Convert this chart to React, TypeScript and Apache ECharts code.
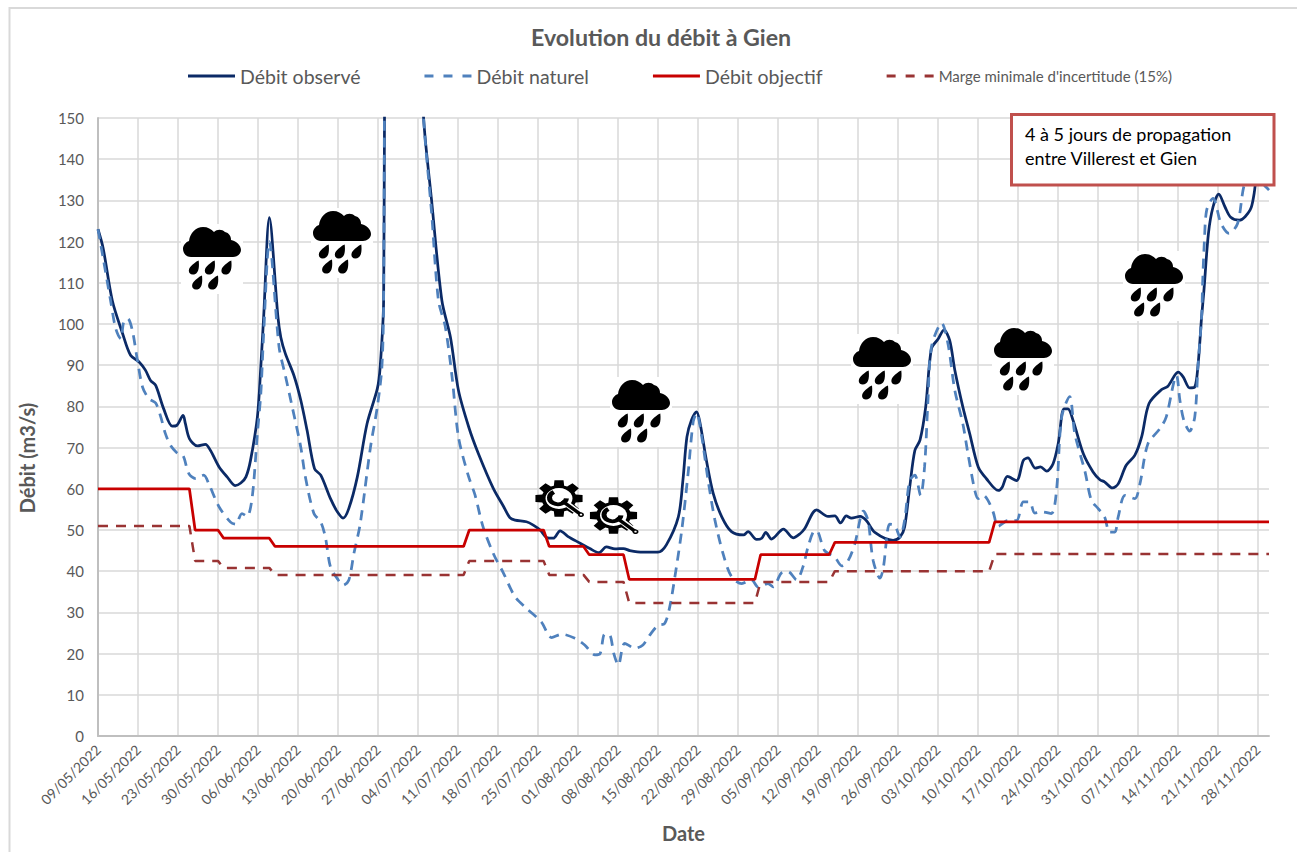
import React, { useEffect, useRef } from "react";
import * as echarts from "echarts";

const FONT = "Lato";
const tickLabels = ["09/05/2022","16/05/2022","23/05/2022","30/05/2022","06/06/2022","13/06/2022","20/06/2022","27/06/2022","04/07/2022","11/07/2022","18/07/2022","25/07/2022","01/08/2022","08/08/2022","15/08/2022","22/08/2022","29/08/2022","05/09/2022","12/09/2022","19/09/2022","26/09/2022","03/10/2022","10/10/2022","17/10/2022","24/10/2022","31/10/2022","07/11/2022","14/11/2022","21/11/2022","28/11/2022"];

// [day since 09/05/2022, m3/s]
const observed = [[0,123],[0.9,118.4],[2.5,105.7],[4.3,97.7],[5.7,92.4],[7.2,90.8],[8.3,88.8],[9.2,86.3],[10.1,85.1],[11.5,79.4],[13,75.2],[13.8,75.4],[14.9,77.8],[15.3,75.8],[16,72.2],[17.4,70.4],[18.8,70.8],[19.7,69.3],[21.2,65.3],[22.6,62.9],[24,60.8],[25,61.4],[25.9,62.9],[26.7,66.9],[27.9,77.4],[28.5,89.6],[29,101.7],[30,125.8],[31.5,101.7],[32,96.8],[32.8,92.8],[34.3,87.5],[35.5,81.5],[36.6,74.2],[37.9,64.9],[39,63.3],[40.7,57.6],[41.9,54.4],[42.9,52.9],[43.9,55.2],[45.4,62.9],[47.1,75.8],[48.9,84.3],[49.4,89.6],[50,105.7],[51,400],[53,300],[55,210],[57,150],[58.4,130],[60.2,105.7],[61.7,96.8],[63.1,83.9],[64.9,75],[66.6,68.5],[69.2,60.1],[71,55.7],[72.1,53],[73,52.4],[75,52],[76.2,51.2],[77.4,50],[78.5,48.2],[79.7,48],[80.9,49.8],[82.3,48.4],[84.4,46.8],[86.1,45.5],[87.7,44.5],[89,45.9],[90.5,45.4],[92,45.5],[93.1,45],[95.4,44.6],[98,44.6],[99.5,46.4],[101.6,53.2],[102.4,62.1],[103.1,72.6],[103.9,76.7],[104.8,78.7],[105.4,75.9],[106.5,67],[107.7,58.9],[109.2,53.2],[110.9,49.6],[113,48.8],[113.8,49.6],[115.3,47.7],[116.2,48],[116.9,49.4],[117.9,47.8],[120,50.2],[121.7,48.1],[122.9,49.1],[123.7,50.3],[125.8,54.9],[127.8,53.3],[129,53.4],[130,51.7],[131,53.4],[131.9,52.9],[133.4,53.3],[134.5,52.3],[136,49.4],[139.2,47.5],[140.4,48.3],[141.2,50.7],[142.1,60.4],[143,69.3],[143.9,71.8],[144.9,79.9],[145.9,94],[147.1,96.4],[148.1,98.6],[149.1,96],[150,88.8],[151.4,79.9],[152.6,73.4],[154.1,65.3],[155.5,62.5],[157.6,59.6],[158.3,60.4],[159.2,63],[160.8,62],[162,66.9],[162.8,67.5],[164.1,65],[165,65.3],[166.1,64.3],[167.2,66.1],[168.1,71],[169.1,79.4],[169.8,79.4],[170.7,76.6],[172.5,68.5],[174.2,64.1],[175.4,62.2],[176.2,61.7],[177.6,60.2],[178.6,61.2],[180,65.7],[181.5,68.1],[182.7,72.6],[184,80.7],[186.2,84.1],[187.3,84.9],[189.1,88.3],[190,87.1],[191.1,84.5],[192,84.7],[192.6,90.4],[193.2,101.7],[193.6,108],[194.4,122],[195.2,128.4],[196.2,131.5],[197.3,128.4],[198.3,125.9],[199.8,125.2],[201.7,127.7],[202.4,131.7],[202.9,136.6],[204,140],[205,142]];

const natural = [[0,123],[0.9,116],[2.2,105.7],[3.1,98.9],[4,96.4],[4.5,100.5],[5.2,101.3],[6,98.5],[6.9,91.2],[7.8,84.7],[8.9,81.9],[10.1,80.8],[11,77.4],[11.8,73.4],[12.7,70.5],[14,68.5],[14.9,68],[15.9,63.7],[17.1,62.5],[18.5,63.3],[19.4,61.2],[21.2,55.6],[23.2,51.9],[24.1,51.4],[25.2,54],[26.1,53.3],[27,58],[27.9,73.4],[28.5,83],[29,97.6],[30,120],[31.7,94.4],[32.8,87.5],[34,79.9],[35.5,70.1],[36.3,62.9],[37.8,54],[39,51.9],[39.8,48.3],[40.7,41],[41.9,38.2],[42.9,36.6],[43.9,37.8],[44.8,44.3],[45.9,51.5],[47.7,70.1],[48.9,79.9],[49.7,89.6],[50,105.7],[51,400],[53,300],[55,210],[57,150],[58.4,127],[59.6,105.7],[60.8,99.3],[62,87],[63.1,72.6],[64.8,63.3],[66,58.5],[67.4,50.8],[69.2,44.3],[71,39.5],[73,33.8],[75,31],[77.6,27.7],[79.4,23.9],[81.2,24.7],[83.5,23.7],[85.2,22.1],[87,19.7],[87.9,20],[88.7,24.7],[89.6,24.5],[90.3,20],[91.1,17.2],[92.2,22.5],[94,21.3],[95.4,22.1],[96.6,24.5],[98,26.8],[99.2,27.3],[100.1,31.4],[101,38.7],[102.2,50],[103.3,63.7],[104.2,76.3],[104.8,78.3],[105.7,72.6],[106.8,62.1],[108,52.4],[109.5,43.9],[110.9,38.7],[112.7,37],[114.4,37.9],[115.6,36.1],[117.3,37],[118.2,36.2],[119.6,39.5],[120.8,39.9],[122.3,37.9],[123.4,41],[124.3,45.9],[125.2,49.5],[125.8,49.8],[127.2,45],[129,43.4],[130.2,41.3],[131.3,42.5],[132.5,46.7],[134,54.6],[134.8,52.3],[135.7,42.6],[136.9,38.3],[137.5,41],[138.6,51.4],[139.5,51.1],[140.4,48.3],[141.2,52.3],[142.1,62],[143,63.3],[144,58.4],[144.7,65.3],[145.3,81.5],[145.9,94.4],[147.7,100.2],[148.8,95.2],[150,83.9],[151.4,75.8],[152.3,68.5],[153.5,59.6],[154.1,57.6],[155,58.4],[155.8,57.2],[156.7,54.4],[157.6,50.9],[159.3,52.3],[160.8,52.3],[162,56.8],[163.1,56.8],[164,54.1],[165.2,54.4],[166.9,54],[167.8,59.6],[168.7,77.4],[170.1,82.4],[171,73.4],[172.8,64.1],[173.9,57.2],[175.1,55.2],[176.2,53.2],[177.1,49.5],[178,49.5],[178.6,53.2],[179.8,58.4],[181.5,57.6],[182.4,61.2],[183.8,70.9],[185.9,74.6],[187,77.4],[188.8,87.5],[189.4,81.5],[190.1,76.6],[191.1,74],[192,77.4],[192.6,90.4],[193.2,101.7],[193.4,110.6],[193.7,120.4],[194.1,127.7],[195.2,130.5],[196.6,124.4],[198,122],[199.5,124.4],[200.6,133.4],[202,138],[204,134],[205,132.5]];

const objective = [[0,60],[16,60],[17,50],[21,50],[22,48],[30,48],[31,46],[64,46],[65,50],[78,50],[79,46],[85,46],[86,44],[92,44],[93,38],[115,38],[116,44],[128,44],[129,47],[156,47],[157,52],[205,52]];

const margin = [[0,51],[16,51],[17,42.5],[21,42.5],[22,40.8],[30,40.8],[31,39.1],[64,39.1],[65,42.5],[78,42.5],[79,39.1],[85,39.1],[86,37.4],[92,37.4],[93,32.3],[115,32.3],[116,37.4],[128,37.4],[129,40],[156,40],[157,44.2],[205,44.2]];

const cloudSpots = [[183,227],[313,211],[612,380],[853,337],[994,328],[1125,254]];
const gearSpots = [[559,498.5],[613.5,515.5]];

const SOLID_ICON = "path://M0 0H47V3H0Z";
const DASHED_ICON = "path://M0 0H9V3H0ZM19 0H28V3H19ZM38 0H47V3H38Z";

const drop = (c: number, d: number) =>
  `M${c + 5} ${d - 8}C${c + 6} ${d + 1} ${c + 4} ${d + 6} ${c - 1} ${d + 6}C${c - 5.5} ${d + 6} ${c - 6} ${d + 1} ${c - 3} ${d - 2}C${c - 1} ${d - 4} ${c + 2} ${d - 7} ${c + 5} ${d - 8}Z`;
const cloudPath =
  "M8 30C3 30 0 26 0 22C0 18 3 15 6 14C7 6 13 0 20 0C25 0 28 2 31 5C34 2 39 2 42 5C46 6 48 9 48 13C53 14 58 18 58 23C58 27 54 30 50 30Z" +
  [[10.7, 41.5], [26.7, 41.5], [43.3, 41.5], [14, 56.5], [30, 56.5]].map(([a, b]) => drop(a, b)).join("");

let gearPath = "";
for (let i = 0; i < 8; i++) {
  const a = (i * Math.PI) / 4;
  const pts = [[-0.3, 17.5], [-0.19, 24], [0.19, 24], [0.3, 17.5]].map(([d, r]) => [r * Math.cos(a + d), r * Math.sin(a + d)]);
  pts.forEach((p, k) => {
    gearPath += `${i === 0 && k === 0 ? "M" : "L"}${p[0].toFixed(2)} ${p[1].toFixed(2)}`;
  });
}
gearPath += "Z";

echarts.graphic.registerShape("rainCloud", echarts.graphic.extendPath(cloudPath, {}));
echarts.graphic.registerShape("gearBody", echarts.graphic.extendPath(gearPath, {}));

const cloudEl = ([x, y]: number[]) => ({
  type: "group",
  x,
  y,
  z: 100,
  children: [
    { type: "rect", z: 100, shape: { x: -2, y: -3, width: 62, height: 70 }, style: { fill: "#ffffff" } },
    { type: "rainCloud", z: 101, style: { fill: "#000000" } },
  ],
});

const gearEl = ([x, y]: number[]) => ({
  type: "group",
  x,
  y,
  scaleY: 0.77,
  z: 100,
  children: [
    { type: "gearBody", z: 101, style: { fill: "#000000" } },
    { type: "circle", z: 102, shape: { cx: 0, cy: 0, r: 13.5 }, style: { fill: "#ffffff" } },
    { type: "line", z: 102, shape: { x1: 5, y1: 4, x2: 22, y2: 21 }, style: { stroke: "#ffffff", lineWidth: 7 } },
    { type: "arc", z: 103, shape: { cx: -1, cy: -1, r: 8.5, startAngle: 0.1, endAngle: 4.2, clockwise: true }, style: { stroke: "#000000", lineWidth: 5, fill: "none" } },
    { type: "line", z: 103, shape: { x1: 3, y1: 3, x2: 22, y2: 21 }, style: { stroke: "#000000", lineWidth: 4 } },
    { type: "circle", z: 103, shape: { cx: 22, cy: 21, r: 3 }, style: { fill: "#000000" } },
    { type: "circle", z: 104, shape: { cx: 22, cy: 21, r: 1.2 }, style: { fill: "#ffffff" } },
  ],
});

export default function App() {
  const ref = useRef<HTMLDivElement>(null);
  useEffect(() => {
    document.body.style.margin = "0";
    document.body.style.overflow = "hidden";
    const chart = echarts.init(ref.current!, null, { renderer: "svg" });
    const lineCommon = { type: "line", showSymbol: false, symbol: "none" };
    chart.setOption({
      animation: false,
      backgroundColor: "#ffffff",
      textStyle: { fontFamily: FONT },
      title: {
        text: "Evolution du débit à Gien",
        left: 526,
        top: 20,
        textStyle: { fontFamily: FONT, fontWeight: "bold", fontSize: 23.2, color: "#595959" },
      },
      legend: {
        left: 183,
        top: 61,
        itemWidth: 47,
        itemHeight: 3,
        itemGap: 64,
        textStyle: { fontFamily: FONT, fontSize: 19.5, color: "#595959" },
        data: [
          { name: "Débit observé", icon: SOLID_ICON },
          { name: "Débit naturel", icon: DASHED_ICON },
          { name: "Débit objectif", icon: SOLID_ICON },
          { name: "Marge minimale d'incertitude (15%)", icon: DASHED_ICON, textStyle: { fontSize: 15, color: "#595959" } },
        ],
      },
      grid: { left: 98, right: 28, top: 118, bottom: 116, outerBoundsMode: "none" },
      xAxis: {
        type: "value",
        min: 0,
        max: 205,
        interval: 7,
        name: "Date",
        nameLocation: "middle",
        nameGap: 87,
        nameTextStyle: { fontFamily: FONT, fontWeight: "bold", fontSize: 20, color: "#595959" },
        axisLine: { show: true, onZero: false, lineStyle: { color: "#bfbfbf", width: 2 } },
        axisTick: { show: false },
        splitLine: { show: true, showMaxLine: false, lineStyle: { color: "#d9d9d9", width: 1.5 } },
        axisLabel: {
          rotate: 45,
          margin: 11,
          fontFamily: FONT,
          fontSize: 14,
          color: "#595959",
          showMaxLabel: false,
          formatter: (v: number) => (v % 7 === 0 ? tickLabels[v / 7] ?? "" : ""),
        },
      },
      yAxis: {
        type: "value",
        min: 0,
        max: 150,
        interval: 10,
        name: "Débit (m3/s)",
        nameLocation: "middle",
        nameGap: 61,
        nameTextStyle: { fontFamily: FONT, fontWeight: "bold", fontSize: 20, color: "#595959", padding: [0, 62, 0, 0] },
        axisLine: { show: true, lineStyle: { color: "#bfbfbf", width: 2 } },
        axisTick: { show: false },
        splitLine: { show: true, lineStyle: { color: "#d9d9d9", width: 1.5 } },
        axisLabel: { margin: 14, fontFamily: FONT, fontSize: 15, color: "#595959" },
      },
      series: [
        { ...lineCommon, name: "Débit observé", data: observed, smooth: 0.3, lineStyle: { color: "#0b2a66", width: 2.75 }, itemStyle: { color: "#0b2a66" } },
        { ...lineCommon, name: "Débit naturel", data: natural, smooth: 0.3, lineStyle: { color: "#4f81bd", width: 2.75, type: [10, 7] }, itemStyle: { color: "#4f81bd" } },
        { ...lineCommon, name: "Débit objectif", data: objective, lineStyle: { color: "#c80000", width: 2.75 }, itemStyle: { color: "#c80000" } },
        { ...lineCommon, name: "Marge minimale d'incertitude (15%)", data: margin, lineStyle: { color: "#993333", width: 2.5, type: [10, 8] }, itemStyle: { color: "#993333" } },
      ],
      graphic: [
        { type: "polyline", z: 1, shape: { points: [[9.5, 852], [9.5, 8], [1297, 8]] }, style: { stroke: "#d9d9d9", lineWidth: 2, fill: "none" } },
        ...cloudSpots.map(cloudEl),
        ...gearSpots.map(gearEl),
        {
          type: "rect",
          z: 110,
          shape: { x: 1011.5, y: 114.5, width: 262.5, height: 70.5 },
          style: { fill: "#ffffff", stroke: "#c0504d", lineWidth: 3 },
        },
        {
          type: "text",
          z: 111,
          x: 1025,
          y: 122,
          style: { text: "4 à 5 jours de propagation\nentre Villerest et Gien", fontFamily: FONT, fontSize: 18, lineHeight: 24, fill: "#000000" },
        },
      ],
    });
    return () => chart.dispose();
  }, []);
  return <div ref={ref} style={{ width: 1297, height: 852 }} />;
}
